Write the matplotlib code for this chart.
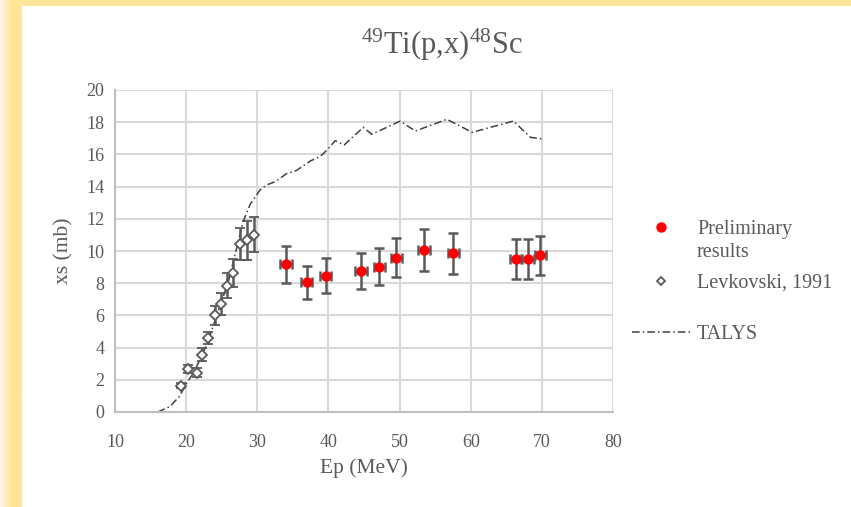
import matplotlib
matplotlib.use("Agg")
import matplotlib.pyplot as plt
import numpy as np
from matplotlib.lines import Line2D

# ---- data ----
talys_e = [16.0, 17.7, 19.1, 20.1, 21.0, 22.0, 23.0, 24.0, 25.0, 26.0, 27.0, 28.0, 29.0, 30.4, 31.3,
           32.5, 34.1, 35.5, 37.5, 38.8, 39.8, 40.95, 42.2, 44.9, 46.1, 50.1, 52.2, 56.65, 60.2,
           66.0, 68.4, 70.1]
talys_xs = [0.0, 0.33, 0.99, 1.82, 2.4, 3.3, 4.3, 5.6, 6.9, 8.2, 10.0, 11.8, 12.9, 13.8, 14.1,
            14.3, 14.8, 15.0, 15.6, 15.86, 16.27, 16.85, 16.58, 17.68, 17.25, 18.07, 17.45, 18.18, 17.37,
            18.07, 17.06, 16.96]

lev_e = [19.3, 20.3, 21.5, 22.2, 23.1, 24.1, 24.9, 25.7, 26.6, 27.6, 28.5, 29.5]
lev_xs = [1.64, 2.68, 2.43, 3.57, 4.6, 6.0, 6.7, 7.83, 8.65, 10.43, 10.68, 11.0]
lev_err = [0.15, 0.23, 0.28, 0.38, 0.38, 0.6, 0.67, 0.78, 0.88, 1.01, 1.21, 1.09]

pre_e = [34.05, 36.96, 39.63, 44.6, 47.17, 49.56, 53.46, 57.58, 66.3, 68.04, 69.77]
pre_xs = [9.17, 8.05, 8.47, 8.74, 9.02, 9.58, 10.06, 9.85, 9.5, 9.5, 9.73]
pre_err = [1.16, 1.03, 1.1, 1.12, 1.16, 1.22, 1.28, 1.26, 1.23, 1.23, 1.23]
pre_xerr = [0.8] * len(pre_e)

x_ticks = [10, 20, 30, 40, 50, 60, 70, 80]
y_ticks = [0, 2, 4, 6, 8, 10, 12, 14, 16, 18, 20]

TXT = "#595959"
GRID = "#D9D9D9"
YEL = "#FFE699"
TALYS_DASH = (5, 2, 1, 2)

plt.rcParams['font.family'] = ['Liberation Serif', 'DejaVu Serif']
plt.rcParams['mathtext.fontset'] = 'custom'
plt.rcParams['mathtext.rm'] = 'Liberation Serif'
plt.rcParams['mathtext.default'] = 'regular'

W, H = 851, 507
fig = plt.figure(figsize=(W / 100, H / 100), dpi=100)
fig.patch.set_facecolor("white")

# yellow frame: left gradient band and top band
bg = fig.add_axes([0, 0, 1, 1], zorder=-10)
bg.set_xlim(0, W)
bg.set_ylim(H, 0)
bg.axis("off")
grad = np.linspace(0, 1, 64)
grad = np.clip(grad / 0.5, 0, 1)[None, :]
yel = np.array(matplotlib.colors.to_rgb(YEL))
wht = np.array([0.99, 0.97, 0.94])
img = wht[None, None, :] * (1 - grad[..., None]) + yel[None, None, :] * grad[..., None]
bg.imshow(img, extent=[0, 22, H, 0], aspect="auto", interpolation="bilinear")
bg.add_patch(plt.Rectangle((10, 0), W - 10, 6, color=YEL, lw=0))

ax = fig.add_axes([115 / W, 1 - 412 / H, (613 - 115) / W, (412 - 90) / H])
ax.set_xlim(10, 80)
ax.set_ylim(0, 20)
ax.set_xticks(x_ticks)
ax.set_yticks(y_ticks)
ax.grid(True, color=GRID, lw=1.5)
ax.set_axisbelow(True)
for s in ["top", "right"]:
    ax.spines[s].set_visible(False)
for s in ["left", "bottom"]:
    ax.spines[s].set_color("#BFBFBF")
    ax.spines[s].set_linewidth(1.5)
ax.tick_params(length=0, colors=TXT, labelsize=13)
ax.tick_params(axis="x", pad=16)
ax.tick_params(axis="y", pad=7.5)

ax.plot(talys_e, talys_xs, color="#404040", lw=1.1, dashes=TALYS_DASH, zorder=2)

ax.errorbar(lev_e, lev_xs, yerr=lev_err, fmt="D", ms=5, mfc="white", mec="#595959", mew=1.3,
            ecolor="#595959", elinewidth=1.8, capsize=3.5, capthick=1.8, zorder=3)
ax.errorbar(pre_e, pre_xs, yerr=pre_err, xerr=pre_xerr, fmt="o", ms=6.5, mfc="#FF0000", mec="#FF0000",
            ecolor="#595959", elinewidth=1.8, capsize=3.5, capthick=1.8, zorder=4)

ax.set_xlabel("Ep (MeV)", color=TXT, fontsize=15.5, labelpad=5)
ax.set_ylabel("xs (mb)", color=TXT, fontsize=15.5, labelpad=9)

fig.text(442 / W, 1 - 45 / H, r"$^{\mathrm{49}}$Ti(p,x)$^{\mathrm{48}}$Sc", ha="center", va="center",
         color=TXT, fontsize=22)

# legend (three blocks to reproduce the spacing of the original)
LFS = 14.5
lpx = LFS * 100 / 72
common = dict(frameon=False, fontsize=LFS, handlelength=58 / lpx, handletextpad=7 / lpx,
              labelcolor=TXT, borderaxespad=0, loc="center left")
x0 = (632 - 0.4 * lpx) / W
h_pre = Line2D([], [], ls="none", marker="o", ms=6.5, color="#FF0000")
h_blank = Line2D([], [], ls="none")
h_lev = Line2D([], [], ls="none", marker="D", ms=4.5, mfc="white", mec="#595959", mew=1.3)
h_tal = Line2D([], [], color="#404040", lw=1.1, dashes=TALYS_DASH)
leg1 = fig.legend([h_pre, h_blank], ["Preliminary", "results"], bbox_to_anchor=(x0, 1 - 241 / H),
                  labelspacing=0.2, **common)
leg2 = fig.legend([h_lev], ["Levkovski, 1991"], bbox_to_anchor=(x0, 1 - 283 / H), **common)
leg3 = fig.legend([h_tal], ["TALYS"], bbox_to_anchor=(x0, 1 - 334 / H), **common)

fig.savefig("out.png", dpi=100)
